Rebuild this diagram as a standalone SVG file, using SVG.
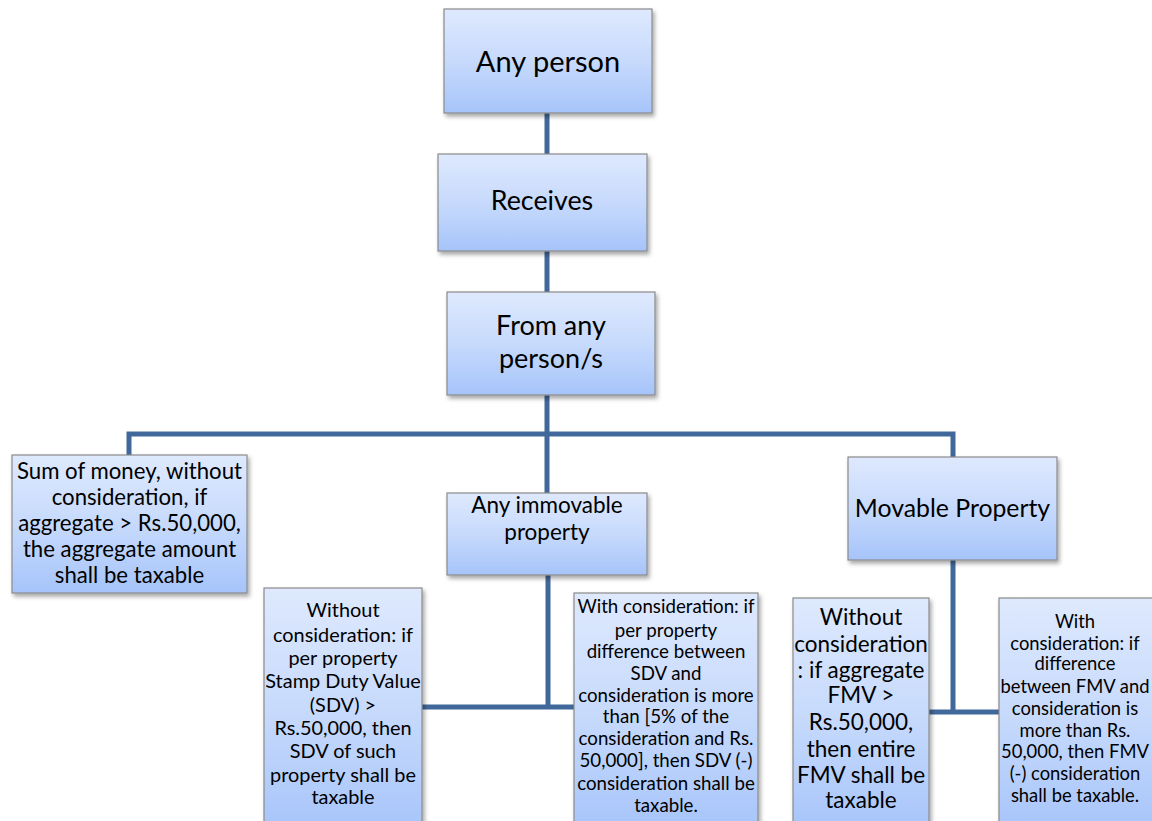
<svg xmlns="http://www.w3.org/2000/svg" width="1152" height="821" viewBox="0 0 1152 821">
<style>
.box{fill:url(#g);stroke:#8a8a8a;stroke-width:1.2;filter:url(#sh)}
.t{font-family:Lato,"Liberation Sans",sans-serif;fill:#000;text-anchor:middle}
.c{fill:none;stroke:#41689A;stroke-width:5}
</style>
<defs>
<linearGradient id="g" x1="0" y1="0" x2="0" y2="1">
<stop offset="0" stop-color="#DEE9FD"/>
<stop offset="0.5" stop-color="#C7DAFC"/>
<stop offset="1" stop-color="#A6C4FA"/>
</linearGradient>
<filter id="sh" x="-10%" y="-10%" width="130%" height="130%">
<feDropShadow dx="2" dy="3" stdDeviation="2" flood-color="#000" flood-opacity="0.35"/>
</filter>
</defs>
<rect width="1152" height="821" fill="#fff"/>
<g id="connectors">
<path class="c" d="M547 113V154M547 251V292M547 395V493"/>
<path class="c" d="M129 455V434H953V457"/>
<path class="c" d="M548 575V707M422 707H574"/>
<path class="c" d="M953 560V712M929 712H999"/>
</g>
<g id="any-person">
<rect class="box" x="444" y="9" width="208" height="104"/>
<text class="t" x="548" y="72" font-size="29">Any person</text>
</g>
<g id="receives">
<rect class="box" x="438" y="154" width="209" height="97"/>
<text class="t" x="542" y="210" font-size="26.8">Receives</text>
</g>
<g id="from-any-person">
<rect class="box" x="447" y="292" width="208" height="103"/>
<text class="t" x="551" y="335" font-size="27">From any</text>
<text class="t" x="551" y="368" font-size="27">person/s</text>
</g>
<g id="sum-of-money">
<rect class="box" x="12" y="455" width="235" height="138"/>
<text class="t" x="129.5" font-size="22.2"><tspan x="129.5" y="479">Sum of money, without</tspan><tspan x="129.5" y="505">consideration, if</tspan><tspan x="129.5" y="531">aggregate &gt; Rs.50,000,</tspan><tspan x="129.5" y="557">the aggregate amount</tspan><tspan x="129.5" y="583">shall be taxable</tspan></text>
</g>
<g id="immovable">
<rect class="box" x="447" y="493" width="200" height="82"/>
<text class="t" x="547" font-size="22.5"><tspan x="547" y="513">Any immovable</tspan><tspan x="547" y="540">property</tspan></text>
</g>
<g id="movable">
<rect class="box" x="848" y="457" width="209" height="103"/>
<text class="t" x="952.5" y="517" font-size="24.8">Movable Property</text>
</g>
<g id="immovable-without">
<rect class="box" x="264" y="588" width="158" height="245"/>
<text class="t" x="343" font-size="19.9"><tspan x="343" y="617">Without</tspan><tspan x="343" y="642">consideration: if</tspan><tspan x="343" y="665">per property</tspan><tspan x="343" y="688">Stamp Duty Value</tspan><tspan x="343" y="712">(SDV) &gt;</tspan><tspan x="343" y="735">Rs.50,000, then</tspan><tspan x="343" y="758">SDV of such</tspan><tspan x="343" y="782">property shall be</tspan><tspan x="343" y="804">taxable</tspan></text>
</g>
<g id="immovable-with">
<rect class="box" x="574" y="593" width="184" height="240"/>
<text class="t" x="666" font-size="18.7"><tspan x="666" y="613">With consideration: if</tspan><tspan x="666" y="637">per property</tspan><tspan x="666" y="658">difference between</tspan><tspan x="666" y="680">SDV and</tspan><tspan x="666" y="702">consideration is more</tspan><tspan x="666" y="723">than [5% of the</tspan><tspan x="666" y="745">consideration and Rs.</tspan><tspan x="666" y="767">50,000], then SDV (-)</tspan><tspan x="666" y="790">consideration shall be</tspan><tspan x="666" y="812">taxable.</tspan></text>
</g>
<g id="movable-without">
<rect class="box" x="793" y="598" width="136" height="235"/>
<text class="t" x="861" font-size="22.5"><tspan x="861" y="625">Without</tspan><tspan x="861" y="652">consideration</tspan><tspan x="861" y="678">: if aggregate</tspan><tspan x="861" y="703">FMV &gt;</tspan><tspan x="861" y="730">Rs.50,000,</tspan><tspan x="861" y="757">then entire</tspan><tspan x="861" y="783">FMV shall be</tspan><tspan x="861" y="808">taxable</tspan></text>
</g>
<g id="movable-with">
<rect class="box" x="999" y="598" width="160" height="235"/>
<text class="t" x="1075" font-size="18.4"><tspan x="1075" y="628">With</tspan><tspan x="1075" y="650">consideration: if</tspan><tspan x="1075" y="670">difference</tspan><tspan x="1075" y="693">between FMV and</tspan><tspan x="1075" y="715">consideration is</tspan><tspan x="1075" y="737">more than Rs.</tspan><tspan x="1075" y="758">50,000, then FMV</tspan><tspan x="1075" y="780">(-) consideration</tspan><tspan x="1075" y="802">shall be taxable.</tspan></text>
</g>
</svg>
